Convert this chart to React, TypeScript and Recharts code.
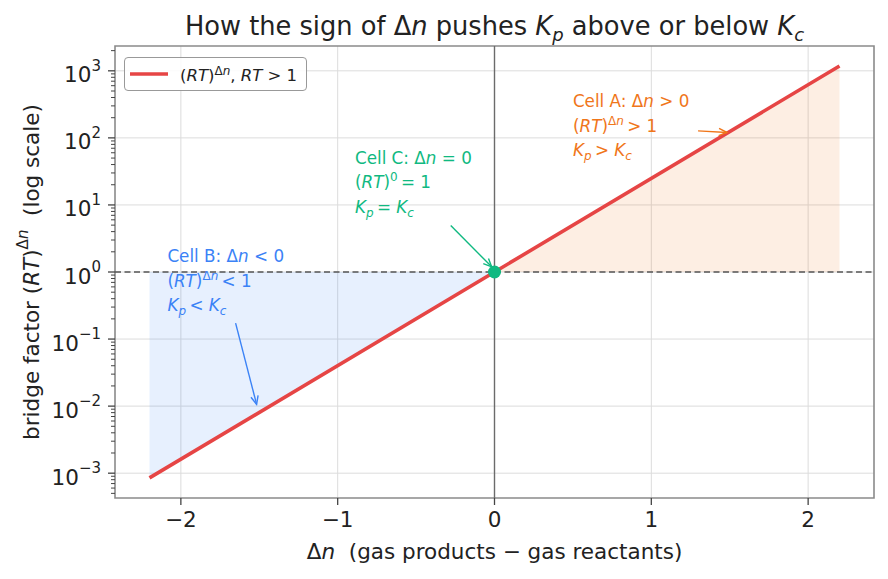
import React from "react";
import {
  ComposedChart, Line, Area, XAxis, YAxis, CartesianGrid,
  ReferenceLine, ReferenceDot, ReferenceArea, Legend,
} from "recharts";

// values
const DELTA_N = [-2.2, 0, 2.2];
const FACTOR = [8.5e-4, 1, 1180];
const X_TICKS = [-2, -1, 0, 1, 2];
const Y_TICKS = [1e-3, 1e-2, 1e-1, 1, 10, 100, 1000];
const Y_MINOR_MULT = [2, 3, 4, 5, 6, 7, 8, 9];

const X_DOMAIN: [number, number] = [-2.42, 2.42];
const Y_DOMAIN: [number, number] = [Math.pow(10, -3.37), Math.pow(10, 3.37)];

const RED = "#e64545";
const BLUE = "#3b82f6";
const ORANGE = "#f0761a";
const GREEN = "#10b981";
const GRID = "#dcdcdc";
const SPINE = "#8a8a8a";
const INK = "#222";
const FONT = "DejaVu Sans, sans-serif";
const FS = 21.5;

const data = DELTA_N.map((x, i) => ({
  x,
  factor: FACTOR[i],
  below: x <= 0 ? [FACTOR[i], 1] : null,
  above: x >= 0 ? [1, FACTOR[i]] : null,
}));

const allYTicks: number[] = [...Y_TICKS];
for (let e = -4; e <= 3; e++) {
  for (const m of Y_MINOR_MULT) {
    const v = m * Math.pow(10, e);
    if (v > Y_DOMAIN[0] && v < Y_DOMAIN[1]) allYTicks.push(v);
  }
}
allYTicks.sort((a, b) => a - b);

const p10 = (e: number) => Math.pow(10, e);

const minus = (n: number) => (n < 0 ? "\u2212" + Math.abs(n) : String(n));

function PowTick(props: any) {
  const { x, y, payload } = props;
  const e = Math.log10(payload.value);
  const major = Math.abs(e - Math.round(e)) < 1e-6;
  const edge = x + 14;
  return (
    <g>
      <line x1={edge - (major ? 7 : 4)} x2={edge} y1={y} y2={y} stroke="#444" strokeWidth={major ? 1.3 : 1} />
      {major && (
        <text x={x} y={y + 4} textAnchor="end" dominantBaseline="central" fontSize={FS} fill={INK} fontFamily={FONT}>
          10<tspan dy={-9} fontSize={15}>{minus(Math.round(e))}</tspan>
        </text>
      )}
    </g>
  );
}

function XTick(props: any) {
  const { x, y, payload } = props;
  return (
    <text x={x} y={y} dy="0.71em" textAnchor="middle" fontSize={FS} fill={INK} fontFamily={FONT}>
      {minus(payload.value)}
    </text>
  );
}

const It = ({ children }: { children: React.ReactNode }) => <tspan fontStyle="italic">{children}</tspan>;

function Sup({ children }: { children: React.ReactNode }) {
  return (
    <>
      <tspan dy={-7} fontSize={12}>{children}</tspan>
      <tspan dy={7}>{"\u2009"}</tspan>
    </>
  );
}

function Sub({ children }: { children: React.ReactNode }) {
  return (
    <>
      <tspan dy={4} fontSize={12} fontStyle="italic">{children}</tspan>
      <tspan dy={-4}>{"\u2009"}</tspan>
    </>
  );
}

function noteShape(color: string, lines: React.ReactNode[]) {
  return (p: any) => (
    <g fontFamily={FONT} fontSize={16.8} fill={color}>
      {lines.map((l, i) => (
        <text key={i} x={p.cx} y={p.cy + 6 + i * 24.5}>{l}</text>
      ))}
    </g>
  );
}

function arrowShape(color: string) {
  return (p: any) => {
    const { x1, y1, x2, y2 } = p;
    const a = Math.atan2(y2 - y1, x2 - x1);
    const L = 9;
    const w = 0.42;
    const lx = x2 - L * Math.cos(a - w);
    const ly = y2 - L * Math.sin(a - w);
    const rx = x2 - L * Math.cos(a + w);
    const ry = y2 - L * Math.sin(a + w);
    return (
      <g stroke={color} strokeWidth={1.4} fill="none">
        <line x1={x1} y1={y1} x2={x2} y2={y2} />
        <polyline points={`${lx},${ly} ${x2},${y2} ${rx},${ry}`} />
      </g>
    );
  };
}

function LegendBox() {
  return (
    <div
      style={{
        boxSizing: "border-box", width: 183, height: 34, border: "1.3px solid #999", borderRadius: 4,
        background: "rgba(255,255,255,0.85)", display: "flex", alignItems: "center",
        fontFamily: FONT, fontSize: 16.5, color: INK, paddingLeft: 5, whiteSpace: "nowrap",
      }}
    >
      <svg width={38} height={8} style={{ marginRight: 12, flex: "none" }}>
        <line x1={0} y1={4} x2={38} y2={4} stroke={RED} strokeWidth={3.5} />
      </svg>
      <span>
        (<i>RT</i>)<sup style={{ fontSize: 12, verticalAlign: 6 }}>Δ<i>n</i></sup>, <i>RT</i> &gt; 1
      </span>
    </div>
  );
}

function XLabel(props: any) {
  const vb = props.viewBox;
  return (
    <text x={vb.x + vb.width / 2} y={vb.y + 61} textAnchor="middle" fontSize={FS} fill={INK} fontFamily={FONT}>
      Δ<It>n</It>{"\u00a0\u00a0"}(gas products − gas reactants)
    </text>
  );
}

function YLabel(props: any) {
  const vb = props.viewBox;
  const cx = 31;
  const cy = vb.y + vb.height / 2;
  return (
    <text x={cx} y={cy} transform={`rotate(-90 ${cx} ${cy})`} textAnchor="middle" dominantBaseline="central"
      fontSize={FS} fill={INK} fontFamily={FONT}>
      bridge factor (<It>RT</It>)<tspan dy={-8} fontSize={15}>Δ<It>n</It></tspan>
      <tspan dy={8}>{"\u00a0\u00a0"}(log scale)</tspan>
    </text>
  );
}

export default function App() {
  return (
    <div style={{ position: "absolute", left: 0, top: 0, width: 888, height: 579, background: "#fff" }}>
      <div
        style={{
          position: "absolute", left: 115, top: 13, width: 759, textAlign: "center",
          fontFamily: FONT, fontSize: 25.7, lineHeight: "26px", color: INK, whiteSpace: "nowrap",
        }}
      >
        How the sign of Δ<i>n</i> pushes <i>K</i><sub style={{ fontSize: 18 }}><i>p</i></sub> above or below{" "}
        <i>K</i><sub style={{ fontSize: 18 }}><i>c</i></sub>
      </div>
      <ComposedChart width={888} height={579} data={data} margin={{ top: 46, right: 14, bottom: 0, left: 0 }}>
        <CartesianGrid stroke={GRID} strokeWidth={1} horizontalValues={Y_TICKS} verticalValues={X_TICKS} />
        <XAxis
          type="number" dataKey="x" domain={X_DOMAIN} ticks={X_TICKS} allowDataOverflow
          height={81} tickSize={7} tickMargin={7} axisLine={false} tickLine={{ stroke: "#444", strokeWidth: 1.3 }}
          tick={<XTick />} label={{ content: <XLabel /> }}
        />
        <YAxis
          scale="log" domain={Y_DOMAIN} allowDataOverflow ticks={allYTicks} width={115} interval={0}
          tickSize={7} tickMargin={7} axisLine={false} tickLine={false}
          tick={<PowTick />} label={{ content: <YLabel /> }}
        />
        <Legend
          layout="horizontal" verticalAlign="middle" align="center"
          wrapperStyle={{ left: 124, top: 57, width: 183, height: 34 }}
          content={<LegendBox />}
        />
        <Area dataKey="below" stroke="none" fill={BLUE} fillOpacity={0.12} isAnimationActive={false} legendType="none" />
        <Area dataKey="above" stroke="none" fill={ORANGE} fillOpacity={0.12} isAnimationActive={false} legendType="none" />
        <ReferenceLine x={0} stroke="#6b6b6b" strokeWidth={1.4} />
        <ReferenceLine y={1} stroke="#555" strokeWidth={1.6} strokeDasharray="6 3.5" />
        <Line dataKey="factor" stroke={RED} strokeWidth={3.6} dot={false} isAnimationActive={false} />
        <ReferenceDot x={0} y={1} r={6.5} fill={GREEN} stroke="none" />
        <ReferenceArea x1={X_DOMAIN[0]} x2={X_DOMAIN[1]} y1={Y_DOMAIN[0]} y2={Y_DOMAIN[1]}
          fill="none" stroke={SPINE} strokeWidth={1.6} ifOverflow="visible" />

        <ReferenceDot x={0.5} y={p10(2.548)} r={0} ifOverflow="visible" shape={noteShape(ORANGE, [
          <>Cell A: Δ<It>n</It> &gt; 0</>,
          <>(<It>RT</It>)<Sup>Δ<It>n</It></Sup>&gt; 1</>,
          <><It>K</It><Sub>p</Sub>&gt; <It>K</It><Sub>c</Sub></>,
        ])} />
        <ReferenceLine segment={[{ x: 1.298, y: p10(2.104) }, { x: 1.483, y: p10(2.08) }]}
          ifOverflow="visible" shape={arrowShape(ORANGE)} />

        <ReferenceDot x={-0.89} y={p10(1.7)} r={0} ifOverflow="visible" shape={noteShape(GREEN, [
          <>Cell C: Δ<It>n</It> = 0</>,
          <>(<It>RT</It>)<Sup>0</Sup>= 1</>,
          <><It>K</It><Sub>p</Sub>= <It>K</It><Sub>c</Sub></>,
        ])} />
        <ReferenceLine segment={[{ x: -0.279, y: p10(0.693) }, { x: -0.018, y: p10(0.077) }]}
          ifOverflow="visible" shape={arrowShape(GREEN)} />

        <ReferenceDot x={-2.086} y={p10(0.237)} r={0} ifOverflow="visible" shape={noteShape(BLUE, [
          <>Cell B: Δ<It>n</It> &lt; 0</>,
          <>(<It>RT</It>)<Sup>Δ<It>n</It></Sup>&lt; 1</>,
          <><It>K</It><Sub>p</Sub>&lt; <It>K</It><Sub>c</Sub></>,
        ])} />
        <ReferenceLine segment={[{ x: -1.651, y: p10(-0.763) }, { x: -1.517, y: p10(-1.973) }]}
          ifOverflow="visible" shape={arrowShape(BLUE)} />
      </ComposedChart>
    </div>
  );
}
